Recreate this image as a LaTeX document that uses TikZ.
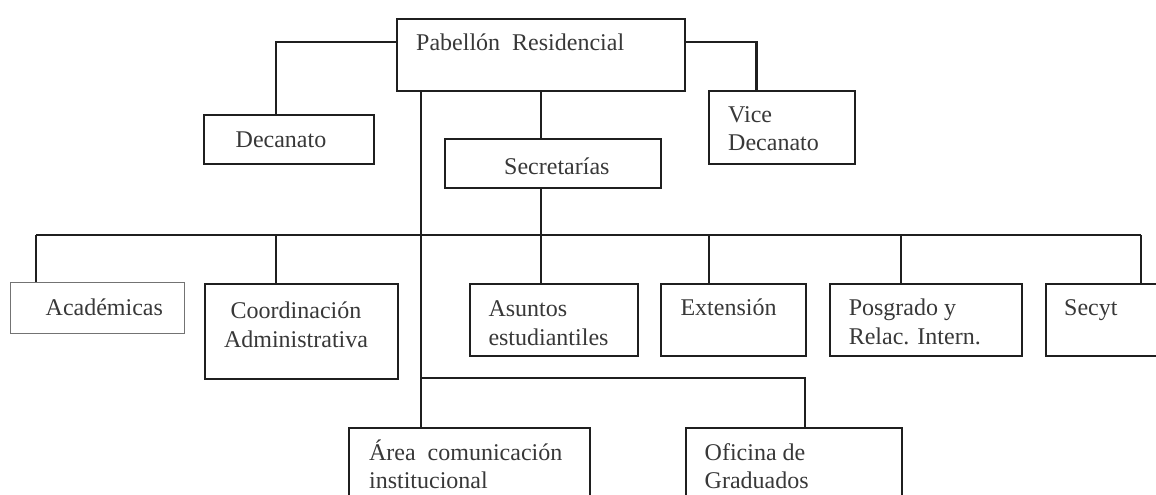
\documentclass[tikz,border=0pt]{standalone}
\usepackage{fontspec}
\setmainfont{Liberation Serif}
\begin{document}
\begin{tikzpicture}[x=1pt,y=-1pt,
  box/.style={draw=black!88, line width=2.2pt, inner sep=0pt, anchor=north west},
  lightbox/.style={draw=black!55, line width=1.3pt, inner sep=0pt, anchor=north west},
  wire/.style={draw=black!88, line width=2.2pt},
  txt/.style={inner sep=0pt, text=black!78, font=\fontsize{24}{28.8}\selectfont, anchor=base west}]
\clip (0,0) rectangle (1156,495);
\fill[white] (0,0) rectangle (1156,495);
% boxes
\node[box, minimum width=288pt, minimum height=72pt] (pab) at (396,18) {};
\node[box, minimum width=169.5pt, minimum height=48.5pt] (dec) at (203,114) {};
\node[box, minimum width=216pt, minimum height=49pt] (sec) at (444,138) {};
\node[box, minimum width=145.5pt, minimum height=73pt] (vice) at (708,90) {};
\node[lightbox, minimum width=174pt, minimum height=51pt] (acad) at (10,282) {};
\node[box, minimum width=193pt, minimum height=95pt] (coord) at (203.5,283) {};
\node[box, minimum width=168pt, minimum height=72pt] (asun) at (469,283) {};
\node[box, minimum width=144.5pt, minimum height=72pt] (ext) at (660,283) {};
\node[box, minimum width=192.5pt, minimum height=72pt] (pos) at (828.5,283) {};
\node[box, minimum width=130pt, minimum height=72pt] (secyt) at (1045,283) {};
\node[box, minimum width=241pt, minimum height=100pt] (area) at (348,427) {};
\node[box, minimum width=216.5pt, minimum height=100pt] (ofi) at (684.5,427) {};
% texts
\node[txt] (tpab) at (416,51) {Pabellón\ \ Residencial};
\node[txt] (tdec) at (235.5,147.5) {Decanato};
\node[txt] (tsec) at (504,174) {Secretarías};
\node[txt] (tvice) at (728,122) {\begin{tabular}[t]{@{}l@{}}Vice\\Decanato\end{tabular}};
\node[txt] (tacad) at (45.5,315.7) {Académicas};
\node[txt, anchor=base] (tcoord) at (296,318.3) {\begin{tabular}[t]{@{}c@{}}Coordinación\\Administrativa\end{tabular}};
\node[txt] (tasun) at (488.3,316.7) {\begin{tabular}[t]{@{}l@{}}Asuntos\\estudiantiles\end{tabular}};
\node[txt] (text) at (680.3,315.7) {Extensión};
\node[txt] (tpos) at (848.6,315.7) {\begin{tabular}[t]{@{}l@{}}Posgrado y\\Relac. Intern.\end{tabular}};
\node[txt] (tsecyt) at (1064,315.5) {Secyt};
\node[txt] (tarea) at (368.9,460) {\begin{tabular}[t]{@{}l@{}}Área\ \ comunicación\\institucional\end{tabular}};
\node[txt] (tofi) at (704.5,460) {\begin{tabular}[t]{@{}l@{}}Oficina de\\Graduados\end{tabular}};
% junction coordinates
\coordinate (jl) at (275.6,42);
\coordinate (jr) at (756.5,42);
\coordinate (vA) at (421,0);
\coordinate (vS) at (541,0);
\coordinate (busL) at (36.3,235);
\coordinate (busR) at (1141,235);
\coordinate (dC) at (275.6,235);
\coordinate (dE) at (709,235);
\coordinate (dP) at (901,235);
\coordinate (br) at (805,378);
% connectors
\draw[wire] (pab.west |- jl) -| (dec.north -| jl);
\draw[wire] (pab.east |- jr) -| (vice.north -| jr);
\draw[wire] (pab.south -| vS) -- (sec.north -| vS);
\draw[wire] (sec.south -| vS) -- (vS |- busL);
\draw[wire] (pab.south -| vA) -- (area.north -| vA);
\draw[wire] (busL) -- (busR);
\draw[wire] (busL) -- (acad.north -| busL);
\draw[wire] (dC) -- (coord.north -| dC);
\draw[wire] (vS |- busL) -- (asun.north -| vS);
\draw[wire] (dE) -- (ext.north -| dE);
\draw[wire] (dP) -- (pos.north -| dP);
\draw[wire] (busR) -- (secyt.north -| busR);
\draw[wire] (vA |- br) -- (br) -- (ofi.north -| br);
\end{tikzpicture}
\end{document}
